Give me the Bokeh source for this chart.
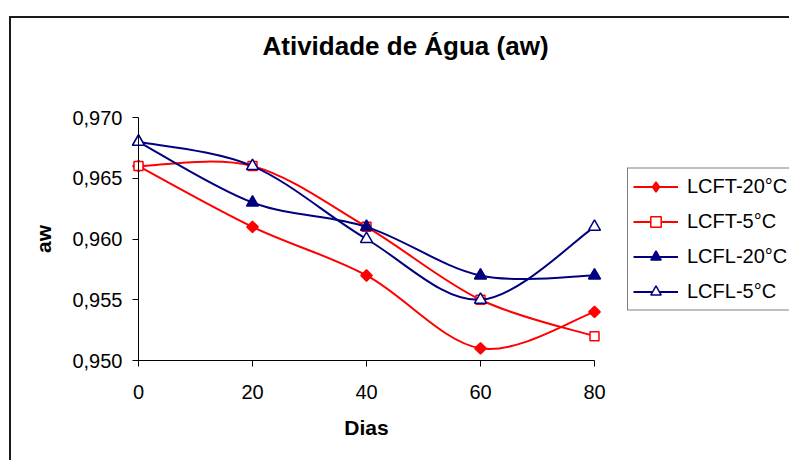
import math
from bokeh.plotting import figure
from bokeh.models import (Range1d, CustomJSTickFormatter, Legend, LegendItem, LinearAxis,
                          FixedTicker, ColumnDataSource, InlineStyleSheet, Title)
from bokeh.embed import file_html
from bokeh.resources import INLINE

# ---- data ----
dias = [0, 20, 40, 60, 80]
lcft_20 = [0.966, 0.961, 0.957, 0.951, 0.954]
lcft_5 = [0.966, 0.966, 0.961, 0.955, 0.952]
lcfl_20 = [0.968, 0.963, 0.961, 0.957, 0.957]
lcfl_5 = [0.968, 0.966, 0.960, 0.955, 0.961]
series_names = ["LCFT-20°C", "LCFT-5°C", "LCFL-20°C", "LCFL-5°C"]
x_ticks = [0, 20, 40, 60, 80]
y_ticks = [0.950, 0.955, 0.960, 0.965, 0.970]
title_text = "Atividade de Água (aw)"
x_label = "Dias"
y_label = "aw"

FONT = "Liberation Sans"
RED = "#FF0000"
NAVY = "#000080"

X0, X1 = 0, 80
Y0, Y1 = 0.950, 0.970
# axis end positions on the 789x460 canvas
AL, AR, AT, AB = 138, 594, 117, 360
PAD = 9  # frame padding (px) so edge markers are not clipped
xpp = (X1 - X0) / (AR - AL)
ypp = (Y1 - Y0) / (AB - AT)
FL, FR, FT, FB = AL - PAD, AR + PAD, AT - PAD, AB + PAD


def smooth_segments(xs, ys, t=1.0 / 6.0):
    """Bezier control points (Catmull-Rom style) so the library draws a smoothed line."""
    n = len(xs)
    d = dict(x0=[], y0=[], x1=[], y1=[], cx0=[], cy0=[], cx1=[], cy1=[])
    for i in range(n - 1):
        a = max(i - 1, 0)
        b = min(i + 2, n - 1)
        d["x0"].append(xs[i]); d["y0"].append(ys[i])
        d["x1"].append(xs[i + 1]); d["y1"].append(ys[i + 1])
        d["cx0"].append(xs[i] + (xs[i + 1] - xs[a]) * t)
        d["cy0"].append(ys[i] + (ys[i + 1] - ys[a]) * t)
        d["cx1"].append(xs[i + 1] - (xs[b] - xs[i]) * t)
        d["cy1"].append(ys[i + 1] - (ys[b] - ys[i]) * t)
    return d


border_css = InlineStyleSheet(css="""
:host { overflow: hidden; }
:host::after {
  content: ""; position: absolute; left: 9px; top: 16px;
  width: 2000px; height: 2000px;
  border-left: 2px solid #1a1a1a; border-top: 2px solid #1a1a1a;
  border-right: none; border-bottom: none;
  pointer-events: none;
}
""")

p = figure(frame_width=FR - FL, frame_height=FB - FT,
           x_range=Range1d(X0 - PAD * xpp, X1 + PAD * xpp),
           y_range=Range1d(Y0 - PAD * ypp, Y1 + PAD * ypp),
           output_backend="svg", toolbar_location=None,
           min_border_left=FL, min_border_right=789 - FR,
           min_border_top=FT, min_border_bottom=460 - FB,
           stylesheets=[border_css])
p.xgrid.visible = False
p.ygrid.visible = False
p.outline_line_color = None
p.background_fill_color = "white"
p.border_fill_color = "white"

# label-carrying axes at the frame edges (no line, no ticks)
for ax in (p.xaxis[0], p.yaxis[0]):
    ax.axis_line_color = None
    ax.major_tick_line_color = None
    ax.minor_tick_line_color = None
    ax.major_tick_in = 0
    ax.major_tick_out = 0
    ax.minor_tick_in = 0
    ax.minor_tick_out = 0
    ax.major_label_text_font = FONT
    ax.major_label_text_font_size = "20px"
    ax.major_label_text_color = "black"
    ax.axis_label_text_font = FONT
    ax.axis_label_text_font_size = "21px"
    ax.axis_label_text_font_style = "bold"
    ax.axis_label_text_color = "black"

p.xaxis.ticker = FixedTicker(ticks=x_ticks)
p.yaxis.ticker = FixedTicker(ticks=y_ticks)
p.yaxis.formatter = CustomJSTickFormatter(code="return tick.toFixed(3).replace('.', ',');")
p.xaxis.axis_label = x_label
p.yaxis.axis_label = y_label
p.yaxis.major_label_standoff = 7
p.yaxis.axis_label_standoff = 14
p.xaxis.major_label_standoff = 15
p.xaxis.axis_label_standoff = 14

# axis lines + ticks exactly at x=0 / y=0.950
xline = LinearAxis(fixed_location=Y0, bounds=(X0, X1), ticker=FixedTicker(ticks=x_ticks),
                   major_tick_in=0, major_tick_out=6, minor_tick_in=0, minor_tick_out=0,
                   axis_line_color="black", major_tick_line_color="black",
                   major_label_text_alpha=0)
yline = LinearAxis(fixed_location=X0, bounds=(Y0, Y1), ticker=FixedTicker(ticks=y_ticks),
                   major_tick_in=0, major_tick_out=6, minor_tick_in=0, minor_tick_out=0,
                   axis_line_color="black", major_tick_line_color="black",
                   major_label_text_alpha=0)
p.add_layout(xline, "below")
p.add_layout(yline, "left")

# real title in the built-in (outermost) slot; a small spacer title sits below it
p.title.text = title_text
p.title.align = "left"
p.title.offset = 262 - FL
p.title.standoff = 57
p.title.text_font = FONT
p.title.text_font_size = "26px"
p.title.text_font_style = "bold"
p.title.text_color = "black"
p.add_layout(Title(text=" ", text_font_size="2px", standoff=15), "above")

specs = [
    (lcft_20, RED, "square", 8, math.pi / 4, RED, "diamond"),
    (lcft_5, RED, "square", 9, 0.0, "white", "square"),
    (lcfl_20, NAVY, "triangle", 12, 0.0, NAVY, "triangle"),
    (lcfl_5, NAVY, "triangle", 12, 0.0, "white", "triangle"),
]

items = []
for name, (ys, col, mk, sz, ang, fill, lmk) in zip(series_names, specs):
    seg = ColumnDataSource(smooth_segments(dias, ys))
    lr = p.bezier(x0="x0", y0="y0", x1="x1", y1="y1", cx0="cx0", cy0="cy0", cx1="cx1", cy1="cy1",
                  source=seg, line_color=col, line_width=2)
    sr = p.scatter(dias, ys, marker=mk, size=sz, angle=ang, line_color=col, line_width=1.5,
                   fill_color=fill)
    rend = [lr, sr]
    if lmk != mk:
        # legend key shape (drawn at zero size in the plot itself)
        kr = p.scatter(dias, ys, marker=lmk, size=0, line_color=col, line_width=1.5,
                       fill_color=fill)
        rend = [lr, kr]
    items.append(LegendItem(label=name, renderers=rend))

legend = Legend(items=items, location="left",
                border_line_color="black", border_line_width=1,
                background_fill_color="white", background_fill_alpha=1.0,
                padding=5, spacing=9, margin=627 - FR,
                glyph_width=45, glyph_height=26, label_height=20, label_standoff=9,
                label_text_font=FONT, label_text_font_size="20px", label_text_color="black")
p.add_layout(legend, "right")

open("out.html", "w").write(file_html(p, INLINE))
